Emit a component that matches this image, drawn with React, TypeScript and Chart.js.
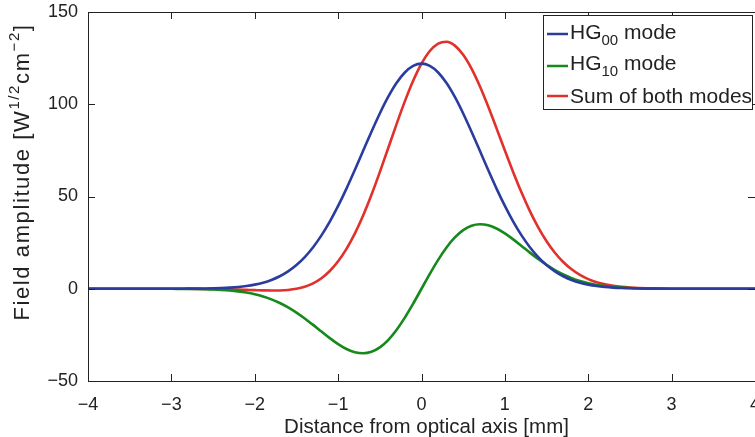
import React, { useEffect, useRef } from 'react';
import { Chart, registerables } from 'chart.js';

Chart.register(...registerables);

// Distance from optical axis [mm]
const xs = [
  -4, -3.5, -3.2,
  -3, -2.9, -2.8, -2.7, -2.6, -2.5, -2.4, -2.3, -2.2, -2.1,
  -2, -1.9, -1.8, -1.7, -1.6, -1.5, -1.4, -1.3, -1.2, -1.1,
  -1, -0.9, -0.8, -0.7, -0.6, -0.5, -0.4, -0.3, -0.2, -0.1,
  0, 0.1, 0.2, 0.3, 0.4, 0.5, 0.6, 0.7, 0.8, 0.9,
  1, 1.1, 1.2, 1.3, 1.4, 1.5, 1.6, 1.7, 1.8, 1.9,
  2, 2.1, 2.2, 2.3, 2.4, 2.5, 2.6, 2.7, 2.8, 2.9,
  3, 3.2, 3.5, 4,
];

// HG00 mode
const hg00 = [
  0, 0, 0,
  0.01, 0.03, 0.05, 0.08, 0.14, 0.24, 0.38, 0.61, 0.97, 1.48,
  2.24, 3.3, 4.78, 6.78, 9.43, 12.86, 17.18, 22.51, 28.91, 36.38,
  44.88, 54.27, 64.33, 74.74, 85.12, 95.01, 103.96, 111.5, 117.22, 120.79,
  122, 120.79, 117.22, 111.5, 103.96, 95.01, 85.12, 74.74, 64.33, 54.27,
  44.88, 36.38, 28.91, 22.51, 17.18, 12.86, 9.43, 6.78, 4.78, 3.3,
  2.24, 1.48, 0.97, 0.61, 0.38, 0.24, 0.14, 0.08, 0.05, 0.03,
  0.01, 0, 0, 0,
];

// HG10 mode
const hg10 = [
  0, 0, 0,
  -0.03, -0.05, -0.09, -0.15, -0.25, -0.39, -0.62, -0.95, -1.42, -2.08,
  -2.99, -4.19, -5.75, -7.71, -10.09, -12.9, -16.09, -19.57, -23.2, -26.77,
  -30.02, -32.67, -34.42, -34.99, -34.16, -31.78, -27.81, -22.37, -15.68, -8.08,
  0, 8.08, 15.68, 22.37, 27.81, 31.78, 34.16, 34.99, 34.42, 32.67,
  30.02, 26.77, 23.2, 19.57, 16.09, 12.9, 10.09, 7.71, 5.75, 4.19,
  2.99, 2.08, 1.42, 0.95, 0.62, 0.39, 0.25, 0.15, 0.09, 0.05,
  0.03, 0, 0, 0,
];

// Sum of both modes
const sumModes = [
  0, 0, 0,
  -0.02, -0.02, -0.04, -0.07, -0.11, -0.15, -0.24, -0.34, -0.45, -0.6,
  -0.75, -0.89, -0.97, -0.93, -0.66, -0.04, 1.09, 2.94, 5.71, 9.61,
  14.86, 21.6, 29.91, 39.75, 50.96, 63.23, 76.15, 89.13, 101.54, 112.71,
  122, 128.87, 132.9, 133.87, 131.77, 126.79, 119.28, 109.73, 98.75, 86.94,
  74.9, 63.15, 52.11, 42.08, 33.27, 25.76, 19.52, 14.49, 10.53, 7.49,
  5.23, 3.56, 2.39, 1.56, 1.0, 0.63, 0.39, 0.23, 0.14, 0.08,
  0.04, 0, 0, 0,
];

const xTicks = [-4, -3, -2, -1, 0, 1, 2, 3, 4];
const yTicks = [-50, 0, 50, 100, 150];

const legendEntries = [
  { base: 'HG', sub: '00', rest: ' mode', color: '#2a3d9f' },
  { base: 'HG', sub: '10', rest: ' mode', color: '#15891a' },
  { base: 'Sum of both modes', sub: '', rest: '', color: '#e2302b' },
];

const xTitle = 'Distance from optical axis [mm]';
const yTitleParts = [
  { t: 'Field amplitude [W', sup: false },
  { t: '1/2', sup: true },
  { t: 'cm', sup: false },
  { t: '\u22122', sup: true },
  { t: ']', sup: false },
];

const FONT = '"Liberation Sans", Arial, Helvetica, sans-serif';
const INK = '#222222';

const fmt = (v: number | string) => {
  const n = Number(v);
  return n < 0 ? '\u2212' + Math.abs(n) : String(n);
};

const decorPlugin = {
  id: 'decor',
  afterDraw(chart: any) {
    const ctx = chart.ctx as CanvasRenderingContext2D;
    const { left, right, top, bottom } = chart.chartArea;
    const xs_ = chart.scales.x;
    const ys_ = chart.scales.y;
    ctx.save();
    // box
    ctx.strokeStyle = INK;
    ctx.lineWidth = 1;
    ctx.beginPath();
    ctx.rect(Math.round(left) + 0.5, Math.round(top) + 0.5, Math.round(right - left), Math.round(bottom - top));
    ctx.stroke();
    // inward ticks
    const tl = 7;
    ctx.beginPath();
    xTicks.forEach((v) => {
      const px = Math.round(xs_.getPixelForValue(v)) + 0.5;
      ctx.moveTo(px, bottom);
      ctx.lineTo(px, bottom - tl);
      ctx.moveTo(px, top);
      ctx.lineTo(px, top + tl);
    });
    yTicks.forEach((v) => {
      const py = Math.round(ys_.getPixelForValue(v)) + 0.5;
      ctx.moveTo(left, py);
      ctx.lineTo(left + tl, py);
      ctx.moveTo(right, py);
      ctx.lineTo(right - tl, py);
    });
    ctx.stroke();

    // x title
    ctx.fillStyle = INK;
    ctx.font = `20.5px ${FONT}`;
    ctx.textAlign = 'center';
    ctx.textBaseline = 'alphabetic';
    ctx.fillText(xTitle, (left + right) / 2 + 5, 433);

    // y title (rotated, with superscripts)
    const mainFont = `22px ${FONT}`;
    const supFont = `15px ${FONT}`;
    (ctx as any).letterSpacing = '1.6px';
    let total = 0;
    yTitleParts.forEach((p) => {
      ctx.font = p.sup ? supFont : mainFont;
      total += ctx.measureText(p.t).width;
    });
    ctx.save();
    ctx.translate(29, 172);
    ctx.rotate(-Math.PI / 2);
    ctx.textAlign = 'left';
    let cx = -total / 2;
    yTitleParts.forEach((p) => {
      ctx.font = p.sup ? supFont : mainFont;
      ctx.fillText(p.t, cx, p.sup ? -10 : 0);
      cx += ctx.measureText(p.t).width;
    });
    ctx.restore();
    (ctx as any).letterSpacing = '0px';

    // legend
    const lx = 543, ly = 15, lw = 209, lh = 94;
    ctx.fillStyle = '#ffffff';
    ctx.fillRect(lx, ly, lw, lh);
    ctx.strokeStyle = INK;
    ctx.lineWidth = 1;
    ctx.strokeRect(lx + 0.5, ly + 0.5, lw, lh);
    const lineYs = [34, 66, 96];
    const baseYs = [39, 70, 103];
    legendEntries.forEach((e, i) => {
      ctx.strokeStyle = e.color;
      ctx.lineWidth = 2.5;
      ctx.beginPath();
      ctx.moveTo(547, lineYs[i]);
      ctx.lineTo(568, lineYs[i]);
      ctx.stroke();
      ctx.fillStyle = INK;
      ctx.textAlign = 'left';
      let tx = 570;
      ctx.font = `21px ${FONT}`;
      ctx.fillText(e.base, tx, baseYs[i]);
      tx += ctx.measureText(e.base).width;
      if (e.sub) {
        ctx.font = `15px ${FONT}`;
        ctx.fillText(e.sub, tx, baseYs[i] + 6);
        tx += ctx.measureText(e.sub).width;
      }
      if (e.rest) {
        ctx.font = `21px ${FONT}`;
        ctx.fillText(e.rest, tx, baseYs[i]);
      }
    });
    ctx.restore();
  },
};

export default function App() {
  const ref = useRef<HTMLCanvasElement | null>(null);
  useEffect(() => {
    if (!ref.current) return;
    const mk = (vals: number[]) => xs.map((x, i) => ({ x, y: vals[i] }));
    const tickFont = { family: FONT, size: 18 };
    const chart = new Chart(ref.current, {
      type: 'line',
      data: {
        datasets: [
          { label: 'HG00 mode', data: mk(hg00), borderColor: legendEntries[0].color },
          { label: 'HG10 mode', data: mk(hg10), borderColor: legendEntries[1].color },
          { label: 'Sum of both modes', data: mk(sumModes), borderColor: legendEntries[2].color },
        ],
      },
      options: {
        animation: false,
        responsive: false,
        layout: { padding: { top: 12, right: 35, left: 0, bottom: 0 } },
        plugins: { legend: { display: false }, tooltip: { enabled: false } },
        elements: {
          point: { radius: 0 },
          line: { borderWidth: 2.6, cubicInterpolationMode: 'monotone', fill: false },
        },
        scales: {
          x: {
            type: 'linear',
            min: -4,
            max: 4,
            afterBuildTicks: (s: any) => {
              s.ticks = xTicks.map((v) => ({ value: v }));
            },
            afterFit: (s: any) => {
              s.height = 56;
              s.paddingLeft = 0;
              s.paddingRight = 0;
            },
            grid: { display: false, drawTicks: false },
            border: { display: false },
            ticks: { padding: 13, font: tickFont, color: INK, maxRotation: 0, autoSkip: false, callback: fmt },
          },
          y: {
            type: 'linear',
            min: -50,
            max: 150,
            afterBuildTicks: (s: any) => {
              s.ticks = yTicks.map((v) => ({ value: v }));
            },
            afterFit: (s: any) => {
              s.width = 88;
              s.paddingTop = 0;
              s.paddingBottom = 0;
            },
            grid: { display: false, drawTicks: false },
            border: { display: false },
            ticks: { padding: 10, font: tickFont, color: INK, autoSkip: false, callback: fmt },
          },
        },
      } as any,
      plugins: [decorPlugin],
    });
    return () => chart.destroy();
  }, []);
  return (
    <div
      style={{
        position: 'fixed',
        left: 0,
        top: 0,
        width: 755,
        height: 437,
        overflow: 'hidden',
        background: '#ffffff',
      }}
    >
      <canvas ref={ref} width={790} height={437} style={{ display: 'block' }} />
    </div>
  );
}
